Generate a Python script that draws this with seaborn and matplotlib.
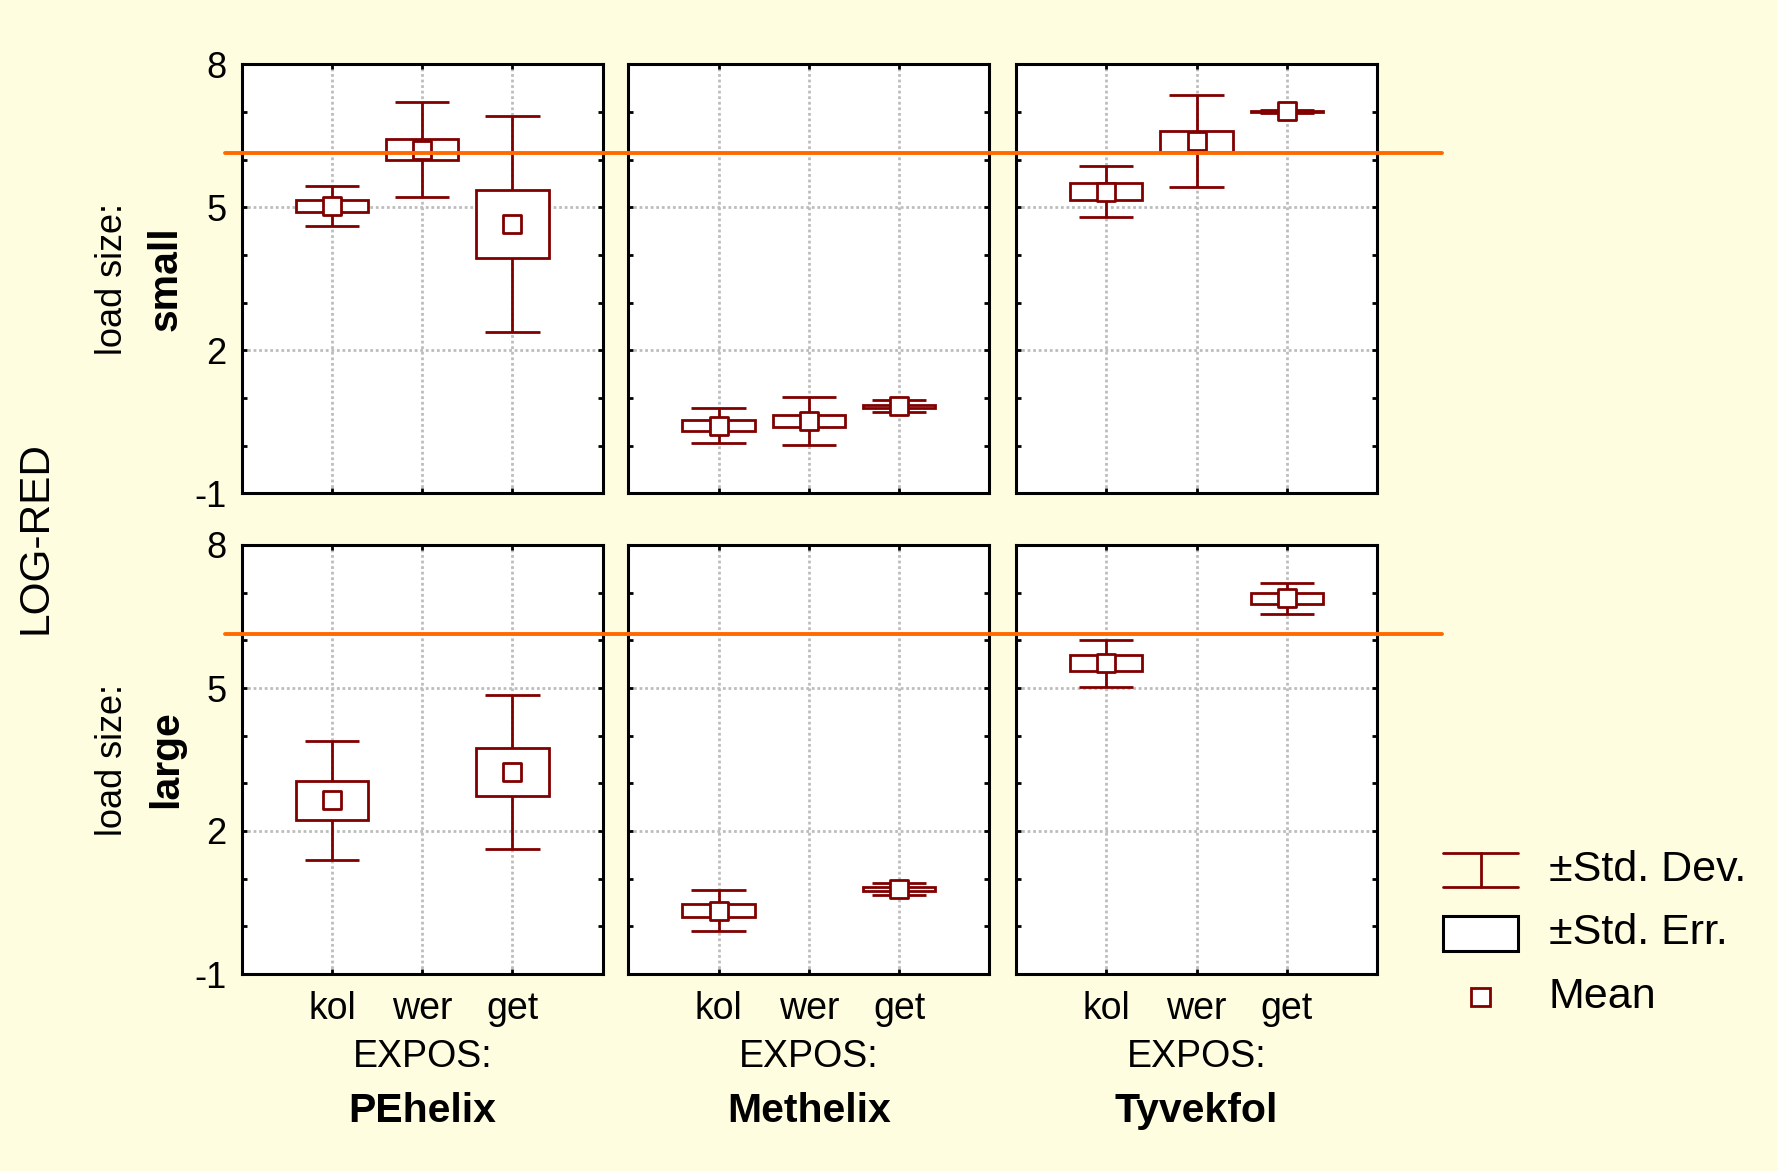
import numpy as np
import pandas as pd
import matplotlib
matplotlib.use("Agg")
import matplotlib.pyplot as plt
import matplotlib.transforms as mtransforms
from matplotlib.patches import Rectangle
from matplotlib.lines import Line2D
from matplotlib.ticker import FixedLocator, MultipleLocator
import seaborn as sns

# ---------------- data ----------------
materials = ["PEhelix", "Methelix", "Tyvekfol"]
expos = ["kol", "wer", "get"]
loads = ["small", "large"]

small_mean = {"PEhelix": [5.03, 6.21, 4.65], "Methelix": [0.42, 0.52, 0.83], "Tyvekfol": [5.33, 6.39, 7.01]}
small_se = {"PEhelix": [0.13, 0.22, 0.72], "Methelix": [0.12, 0.12, 0.03], "Tyvekfol": [0.17, 0.22, 0.012]}
small_sd = {"PEhelix": [0.42, 1.00, 2.27], "Methelix": [0.37, 0.51, 0.12], "Tyvekfol": [0.53, 0.96, 0.025]}

large_mean = {"PEhelix": [2.64, np.nan, 3.24], "Methelix": [0.33, np.nan, 0.78], "Tyvekfol": [5.52, np.nan, 6.88]}
large_se = {"PEhelix": [0.40, np.nan, 0.51], "Methelix": [0.14, np.nan, 0.045], "Tyvekfol": [0.165, np.nan, 0.11]}
large_sd = {"PEhelix": [1.25, np.nan, 1.61], "Methelix": [0.43, np.nan, 0.13], "Tyvekfol": [0.49, np.nan, 0.32]}

ref_value = 6.13
y_ticks = [-1, 2, 5, 8]

rows = []
for load, M, SE, SD in [("small", small_mean, small_se, small_sd),
                        ("large", large_mean, large_se, large_sd)]:
    for mat in materials:
        for i, e in enumerate(expos):
            rows.append(dict(load=load, material=mat, expos=e, pos=i + 1,
                             mean=M[mat][i], se=SE[mat][i], sd=SD[mat][i]))
df = pd.DataFrame(rows)

# ---------------- style ----------------
sns.set_style("white")
plt.rcParams["font.family"] = ["Liberation Sans", "DejaVu Sans"]
plt.rcParams["text.color"] = "black"
plt.rcParams["xtick.color"] = "black"
plt.rcParams["ytick.color"] = "black"
plt.rcParams["xtick.labelcolor"] = "black"
plt.rcParams["ytick.labelcolor"] = "black"

BG = "#FFFDE0"
RED = "#800000"
ORANGE = "#FF6A00"
GRID = "#BDBDBD"
LW = 2.0

W, H = 1778, 1171
fig = plt.figure(figsize=(W / 100, H / 100), dpi=100, facecolor=BG)

col_left = [241.7, 628.3, 1016.0]
ax_w = 361.0
row_top = [64.3, 545.0]
ax_h = 429.0

axes = {}
for r, load in enumerate(loads):
    for c, mat in enumerate(materials):
        ax = fig.add_axes([col_left[c] / W, 1 - (row_top[r] + ax_h) / H, ax_w / W, ax_h / H])
        ax.set_facecolor("white")
        ax.set_xlim(0, 4)
        ax.set_ylim(-1, 8)
        ax.xaxis.set_major_locator(FixedLocator([1, 2, 3]))
        ax.yaxis.set_major_locator(FixedLocator(y_ticks))
        ax.yaxis.set_minor_locator(MultipleLocator(1))
        ax.grid(True, which="major", color=GRID, linestyle=(0, (1, 1)), linewidth=2.0)
        ax.set_axisbelow(True)
        ax.tick_params(which="both", direction="in", length=3.5, width=2.0, color="black",
                       top=True, right=True, left=True, bottom=True)
        ax.tick_params(axis="y", labelsize=26, pad=11)
        ax.tick_params(axis="x", labelsize=27, pad=12)
        for s in ax.spines.values():
            s.set_linewidth(2.2)
            s.set_color("black")
            s.set_visible(True)

        sub = df[(df.load == load) & (df.material == mat)].dropna()
        x = sub["pos"].to_numpy()
        m = sub["mean"].to_numpy()
        se = sub["se"].to_numpy()
        sd = sub["sd"].to_numpy()
        # SD whiskers
        ax.vlines(x, m - sd, m + sd, color=RED, linewidth=LW, zorder=3)
        ax.hlines(np.r_[m - sd, m + sd], np.r_[x, x] - 0.3, np.r_[x, x] + 0.3,
                  color=RED, linewidth=LW, zorder=3)
        # SE boxes
        ax.bar(x, 2 * se, bottom=m - se, width=0.8, facecolor="white",
               edgecolor=RED, linewidth=LW, zorder=4)
        # means
        sns.scatterplot(data=sub, x="pos", y="mean", ax=ax, marker="s", s=165,
                        color="white", edgecolor=RED, linewidth=LW, zorder=5, legend=False)
        ax.set_xlim(0, 4)
        ax.set_ylim(-1, 8)
        ax.set_xlabel("")
        ax.set_ylabel("")
        if c == 0:
            ax.set_yticklabels([str(t) for t in y_ticks])
        else:
            ax.set_yticklabels([])
        if r == 1:
            ax.set_xticklabels(expos)
        else:
            ax.set_xticklabels([])
        axes[(r, c)] = ax

    # reference line across the row
    trans = mtransforms.blended_transform_factory(fig.transFigure, axes[(r, 0)].transData)
    fig.add_artist(Line2D([225 / W, 1441.7 / W], [ref_value, ref_value], transform=trans,
                          color=ORANGE, linewidth=2.8, zorder=10))

# column labels
for c, mat in enumerate(materials):
    cx = (col_left[c] + ax_w / 2) / W
    fig.text(cx, 1 - 1066.7 / H, "EXPOS:", ha="center", va="baseline", fontsize=27)
    fig.text(cx, 1 - 1121.7 / H, mat, ha="center", va="baseline", fontsize=29.5, fontweight="bold")

# row labels
for r, load in enumerate(loads):
    cy = 1 - (row_top[r] + ax_h / 2) / H
    fig.text(121.7 / W, cy, "load size:", rotation=90, rotation_mode="anchor",
             ha="center", va="baseline", fontsize=26)
    fig.text(176.7 / W, cy, load, rotation=90, rotation_mode="anchor",
             ha="center", va="baseline", fontsize=29.5, fontweight="bold")

fig.text(47 / W, 1 - 537 / H, "LOG-RED", rotation=90, rotation_mode="anchor",
         ha="center", va="baseline", fontsize=30.5)

# legend
lax = fig.add_axes([1420 / W, 1 - 1030 / H, 358 / W, 200 / H])
lax.set_xlim(1420, 1778)
lax.set_ylim(1030, 830)
lax.axis("off")
lax.add_line(Line2D([1443, 1518], [853, 853], color=RED, linewidth=LW))
lax.add_line(Line2D([1443, 1518], [887, 887], color=RED, linewidth=LW))
lax.add_line(Line2D([1481, 1481], [853, 887], color=RED, linewidth=LW))
lax.add_patch(Rectangle((1443, 916), 75, 35, facecolor="white", edgecolor="black", linewidth=2.2))
lax.add_patch(Rectangle((1471, 988), 19, 18, facecolor="white", edgecolor=RED, linewidth=LW))
for ty, label in [(870, "±Std. Dev."), (933, "±Std. Err."), (997, "Mean")]:
    lax.text(1549, ty, label, ha="left", va="center", fontsize=31)

fig.savefig("out.png", dpi=100, facecolor=BG)
